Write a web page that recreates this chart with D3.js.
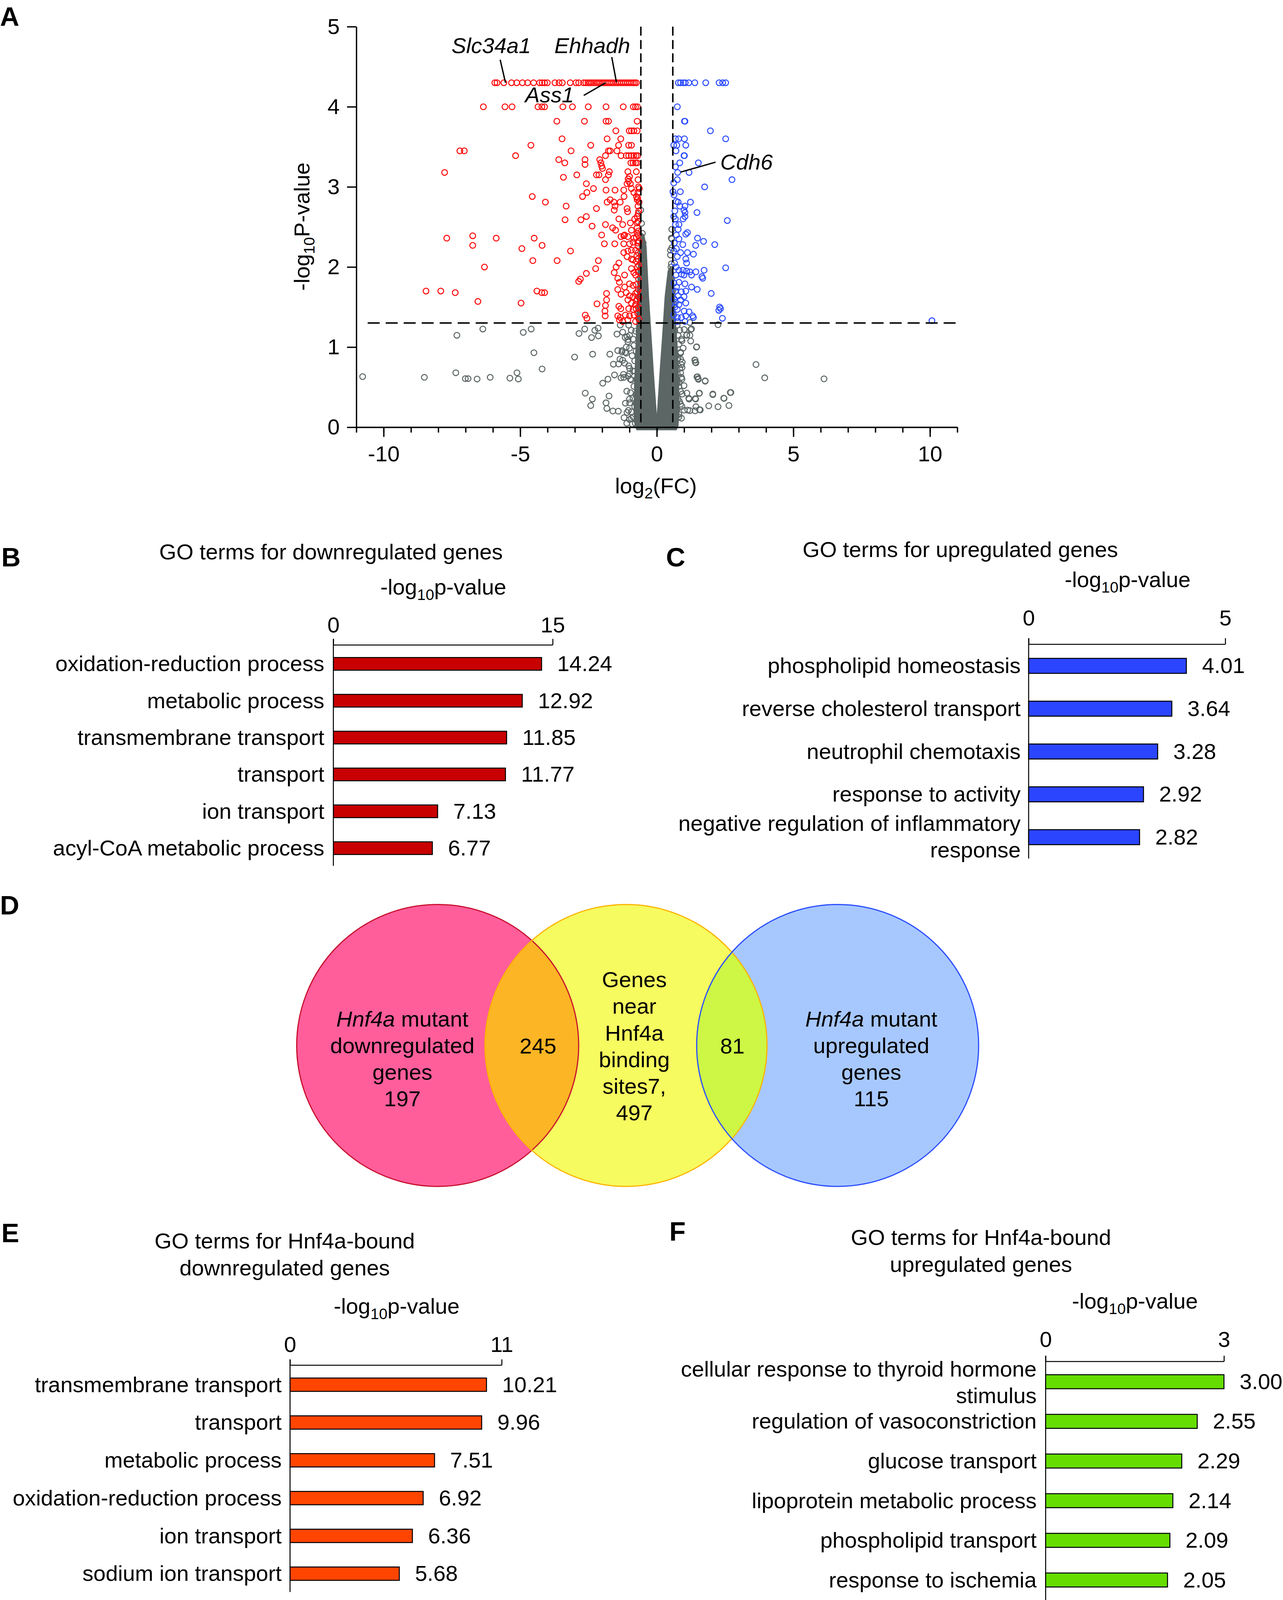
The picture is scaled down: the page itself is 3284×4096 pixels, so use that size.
<!DOCTYPE html>
<html><head><meta charset="utf-8">
<script src="https://cdn.jsdelivr.net/npm/d3@7"></script>
<style>html,body{margin:0;padding:0;background:#fff;overflow:hidden;} svg{display:block;}</style>
</head><body><svg id="fig"></svg>
<script>
// ---------------- DATA ----------------
const volcanoXDomain = [-11, 11];
const volcanoYDomain = [0, 5];
const volcanoXTicks = [-10, -5, 0, 5, 10];
const volcanoYTicks = [0, 1, 2, 3, 4, 5];
const fcCut = 0.585;      // log2(1.5)
const pCut = 1.301;       // -log10(0.05)

const downPoints = [
[-5.93,4.3],[-5.85,4.3],[-5.6,4.3],[-5.32,4.3],[-5.13,4.3],[-4.92,4.3],[-4.73,4.3],[-4.51,4.3],[-4.29,4.3],[-4.2,4.3],[-4.11,4.3],[-4.01,4.3],[-3.73,4.3],[-3.58,4.3],[-3.46,4.3],[-3.17,4.3],[-2.96,4.3],[-2.86,4.3],[-2.68,4.3],[-2.6,4.3],[-2.52,4.3],[-2.45,4.3],[-2.38,4.3],[-2.3,4.3],[-2.22,4.3],[-2.15,4.3],[-2.08,4.3],[-2,4.3],[-1.93,4.3],[-1.86,4.3],[-1.79,4.3],[-1.72,4.3],[-1.65,4.3],[-1.58,4.3],[-1.5,4.3],[-1.43,4.3],[-1.36,4.3],[-1.29,4.3],[-1.22,4.3],[-1.15,4.3],[-1.08,4.3],[-1.01,4.3],[-0.94,4.3],[-0.87,4.3],[-0.81,4.3],[-0.75,4.3],
[-6.35,4],[-5.56,4],[-5.3,4],[-4.35,4],[-4.21,4],[-4.11,4],[-3.44,4],[-3.09,4],[-2.51,4],[-1.86,4],[-1.23,4],[-0.86,4],[-0.78,4],[-0.71,4],
[-3.66,3.82],[-2.65,3.82],[-1.86,3.82],[-1.77,3.82],[-0.72,3.82],
[-1.5,3.7],[-1.01,3.7],[-0.93,3.7],[-0.84,3.7],[-0.72,3.7],
[-3.47,3.6],[-1.82,3.6],[-1.32,3.6],
[-4.61,3.52],[-2.42,3.52],[-1.4,3.52],[-1.03,3.52],[-0.93,3.52],
[-7.21,3.45],[-7.05,3.45],[-3.14,3.45],[-1.77,3.45],[-1.71,3.45],[-1.46,3.45],
[-5.17,3.39],[-1.88,3.39],[-1.31,3.39],[-1.12,3.39],[-1.03,3.39],[-0.93,3.39],[-0.84,3.39],[-0.76,3.39],[-0.7,3.39],
[-3.59,3.34],[-2.63,3.34],[-2.09,3.34],
[-3.37,3.3],[-2.63,3.28],[-2.05,3.3],[-0.95,3.3],[-0.87,3.3],[-0.78,3.3],[-0.72,3.3],
[-2.02,3.26],[-1.99,3.23],
[-7.77,3.18],[-1.74,3.19],[-1.06,3.19],[-0.75,3.19],
[-2.93,3.15],[-2.21,3.15],[-2.12,3.15],[-1.77,3.15],
[-3.42,3.12],[-1.05,3.1],[-1.0,3.13],
[-1.88,3.09],[-1.03,3.07],[-0.69,3.09],
[-2.58,3.04],[-1.09,3.04],[-0.97,3.04],
[-2.32,2.98],[-0.93,2.98],[-0.64,2.98],
[-1.86,2.96],[-1.53,2.96],[-1.21,2.96],
[-2.56,2.93],[-0.84,2.93],[-0.69,2.93],
[-4.56,2.88],[-2.72,2.88],[-1.2,2.88],[-0.75,2.88],
[-1.71,2.84],[-0.72,2.84],
[-4.08,2.81],[-1.82,2.81],[-1.57,2.81],[-1.34,2.81],[-0.65,2.81],
[-3.32,2.76],[-1.53,2.76],[-0.69,2.76],
[-2.21,2.73],[-1.09,2.73],
[-1.56,2.71],[-1.07,2.69],[-0.66,2.7],
[-2.58,2.63],[-0.72,2.63],
[-1.39,2.6],[-0.81,2.6],
[-3.36,2.59],[-2.78,2.59],
[-0.97,2.55],[-0.72,2.55],
[-1.88,2.53],[-1.25,2.53],
[-2.37,2.51],
[-1.62,2.49],[-0.72,2.49],[-0.67,2.45],
[-1.51,2.46],[-0.93,2.46],
[-2.02,2.4],[-1.18,2.4],[-0.69,2.4],
[-6.74,2.39],[-1.31,2.38],[-1.21,2.39],[-1.06,2.38],[-0.75,2.37],
[-7.69,2.36],[-5.88,2.36],[-4.49,2.36],[-0.84,2.36],
[-0.65,2.32],
[-1.92,2.29],[-1.54,2.29],[-1.21,2.29],[-0.997,2.29],[-0.87,2.31],
[-6.74,2.27],[-4.2,2.27],[-0.69,2.26],
[-4.94,2.23],[-3.16,2.2],
[-1.21,2.18],[-1.06,2.2],[-0.93,2.21],[-0.78,2.21],[-0.68,2.18],
[-1.09,2.13],[-0.93,2.1],[-0.87,2.09],[-0.75,2.07],[-0.69,2.1],
[-4.54,2.08],[-3.65,2.08],[-2.14,2.08],
[-1.39,2.05],[-0.66,2.02],
[-6.31,2.0],[-1.49,2.0],[-2.24,1.98],[-0.93,1.98],
[-0.69,1.94],[-1.56,1.93],[-0.84,1.93],[-2.58,1.92],
[-1.18,1.9],[-0.78,1.9],
[-1.43,1.86],[-0.67,1.85],[-2.8,1.85],[-2.86,1.82],
[-1.37,1.81],
[-1.0,1.79],[-0.87,1.77],[-0.75,1.78],
[-1.18,1.75],[-1.43,1.72],
[-8.45,1.7],[-7.91,1.7],[-4.39,1.7],[-0.72,1.69],
[-7.38,1.68],[-4.21,1.68],[-4.11,1.68],[-1.12,1.68],
[-1.84,1.67],[-0.78,1.67],[-1.31,1.66],
[-1.0,1.64],[-0.87,1.63],[-0.65,1.62],
[-1.84,1.59],[-1.06,1.59],[-0.75,1.58],
[-6.55,1.57],[-4.97,1.55],[-0.93,1.55],[-2.19,1.54],[-0.78,1.53],
[-1.88,1.52],[-1.39,1.51],[-0.68,1.5],
[-1.03,1.48],[-1.32,1.48],[-0.87,1.47],[-0.76,1.48],
[-1.9,1.45],
[-2.62,1.4],[-1.15,1.4],[-0.84,1.4],[-1.43,1.39],[-1.0,1.39],[-1.89,1.39],
[-1.34,1.37],[-2.56,1.36],[-0.66,1.35],
[-1.37,1.34],[-1.06,1.34],[-1.25,1.32],[-0.78,1.32],
[-0.7,1.42],[-0.72,1.6],[-0.68,1.72],[-0.71,2.0],[-0.73,2.14],[-0.7,2.3],[-0.72,2.42],[-0.69,2.57],[-0.68,2.67],[-0.7,2.86],[-0.67,3.0]
];

const upPoints = [
[0.79,4.3],[0.87,4.3],[0.97,4.3],[1.04,4.3],[1.17,4.3],[1.39,4.3],[1.79,4.3],[2.28,4.3],[2.41,4.3],[2.52,4.3],
[0.75,4.0],[1.01,3.82],[1.03,3.82],[1.96,3.7],
[0.68,3.6],[0.8,3.6],[1.01,3.6],[2.52,3.6],
[0.62,3.52],[0.73,3.52],[1.06,3.52],[0.7,3.45],
[0.995,3.39],[1.01,3.39],
[0.84,3.3],[1.52,3.3],[0.68,3.25],
[0.76,3.18],[1.18,3.18],
[0.75,3.09],[2.75,3.09],[0.62,3.05],
[1.75,3.0],
[0.59,2.94],[0.86,2.94],[0.63,2.9],
[0.71,2.82],[0.78,2.81],[1.23,2.81],
[1.03,2.76],[0.84,2.76],[0.995,2.71],[1.03,2.68],[1.47,2.68],[0.66,2.7],
[0.62,2.63],[1.03,2.63],[0.68,2.6],[0.96,2.6],[2.58,2.58],
[0.68,2.53],[0.81,2.53],[0.78,2.47],
[1.12,2.43],[1.06,2.41],[0.715,2.4],
[1.49,2.36],[0.81,2.35],[1.71,2.32],[2.12,2.28],[0.95,2.28],[1.42,2.27],[0.64,2.3],
[0.715,2.23],[0.62,2.2],[0.87,2.18],[1.12,2.18],[1.34,2.16],
[0.75,2.13],[1.06,2.1],[1.09,2.05],[0.65,2.05],
[0.71,2.0],[2.52,1.99],
[0.81,1.96],[0.96,1.96],[1.73,1.96],[1.09,1.95],[1.21,1.94],[1.43,1.94],
[0.9,1.91],[0.995,1.9],[1.27,1.9],[0.7,1.9],
[1.65,1.88],[1.68,1.86],
[0.81,1.81],[0.63,1.8],[1.03,1.79],[1.27,1.75],[0.72,1.75],[1.48,1.72],
[0.68,1.7],[1.06,1.7],[0.9,1.69],[1.99,1.67],
[0.78,1.64],[0.995,1.63],[0.64,1.6],[0.87,1.59],
[0.68,1.56],[1.06,1.55],[0.81,1.53],[0.66,1.5],[2.3,1.5],[2.33,1.48],
[0.75,1.47],[2.27,1.46],[1.0,1.45],[1.18,1.44],[0.62,1.4],
[1.31,1.39],[1.06,1.39],[1.34,1.37],[0.9,1.37],[0.75,1.37],[2.4,1.36],
[10.07,1.33],[0.75,1.32],[1.03,1.32]
];

const nsPoints = [
[-6.37,1.226],[-7.32,1.148],[-4.89,1.184],[-4.6,1.226],[-2.85,1.17],[-2.64,1.226],[-2.39,1.12],[-2.27,1.21],[-2.14,1.14],[-2.15,1.237],
[-4.5,0.93],[-3.01,0.876],[-2.35,0.912],[-1.72,0.912],[-1.59,0.787],[-10.77,0.632],[-8.51,0.623],[-7.36,0.68],[-7.01,0.607],[-6.91,0.607],
[-6.58,0.602],[-6.1,0.623],[-5.38,0.613],[-5.12,0.68],[-5.07,0.602],[-4.2,0.727],[-1.98,0.55],[-1.79,0.6],[-1.55,0.653],[-2.62,0.426],
[-2.36,0.352],[-2.42,0.271],[-1.86,0.305],[-1.83,0.235],[-1.75,0.39],[-1.61,0.203],
[-1.41,0.2],[-1.4,0.79],[-1.25,0.837],[-1.43,0.957],[-1.28,0.94],[-1.12,0.925],[-1.46,1.163],[-1.25,1.187],[-1.09,1.13],[-1.34,1.275],
[-1.03,0.766],[-1.0,0.67],[-1.21,0.622],[-1.09,0.185],[-0.934,0.113],[-1.0,0.352],
[-1.16,1.12],[-1.05,1.095],[-1.27,0.957],[-1.16,0.936],[-1.35,0.85],[-1.22,0.66],[-1.31,0.617],[-0.97,0.6],[-1.04,0.21],
[-1.03,1.275],[-0.934,1.211],[-0.997,1.148],[-0.872,1.1],[-1.06,1.068],[-0.84,1.02],[-0.997,0.988],[-0.903,0.893],[-0.81,0.829],
[-0.997,0.734],[-0.872,0.702],[-1.06,0.638],[-0.934,0.59],[-0.84,0.51],[-0.965,0.431],[-0.872,0.367],[-0.997,0.304],[-0.81,0.256],
[-0.934,0.192],[-0.872,0.129],[-0.997,0.097],
[-0.78,1.2],[-0.76,0.95],[-0.8,0.7],[-0.77,0.4],[-0.79,0.05],[-0.9,0.04],[-1.1,0.05],[-1.2,0.12],[-1.15,0.3],[-1.1,0.45],[-1.18,0.8],[-1.12,1.0],
[2.24,1.28],[3.63,0.783],[3.95,0.617],[6.12,0.604],[1.45,1.0],[1.39,0.84],[1.41,0.81],[1.47,0.628],[1.51,0.607],[1.77,0.58],
[1.1,0.426],[1.17,0.363],[1.41,0.358],[1.56,0.426],[2.05,0.415],[2.45,0.363],[2.69,0.433],[1.9,0.267],[2.24,0.256],[2.64,0.271],
[1.21,1.147],[1.1,1.152],[1.0,1.22],[1.24,1.22],[1.43,0.256],[1.56,0.22],[1.13,0.214],[1.0,0.214],[0.83,0.32],[0.92,0.26],
[0.74,0.55],[0.92,0.6],[0.92,0.745],[0.87,0.68],[0.87,0.85],[0.87,0.936],[0.92,1.08],
[1.21,1.307],[1.27,1.227],[1.09,1.148],[1.24,1.076],[1.46,1.004],[1.4,0.837],[1.43,0.805],[1.49,0.63],[1.52,0.598],[1.77,0.575],
[1.55,0.423],[1.18,0.351],[1.42,0.351],[2.05,0.407],[2.46,0.36],[2.71,0.434],[1.21,0.208],[1.4,0.205],[1.59,0.216],
[0.81,0.559],[0.995,0.519],[0.87,0.447],[0.68,0.129],[0.81,0.129],[0.745,0.845],[0.9,0.781],
[0.746,1.275],[0.84,1.211],[0.777,1.148],[0.901,1.1],[0.808,1.036],[0.964,0.988],[0.87,0.925],[0.777,0.861],[0.93,0.813],
[0.84,0.734],[0.746,0.67],[0.901,0.622],[0.808,0.51],[0.93,0.415],[0.777,0.352],[0.87,0.288],[0.746,0.224],[0.808,0.16],[0.901,0.113],
[-0.5,2.3],[-0.53,2.17],[-0.47,2.07],[-0.5,1.96],[0.53,2.36],[0.5,2.21],[0.5,2.15],[0.53,2.04],
[-0.59,2.71],[-0.56,2.545],[-0.53,2.42],[0.547,2.47],[0.547,2.35],[0.547,2.24],
[-0.6,1.8],[-0.58,1.6],[-0.62,1.45],[-0.55,2.0],[-0.57,2.15],[0.58,1.7],[0.55,1.85],[0.6,1.55],[0.52,2.0],
[-0.66,1.2],[-0.7,0.9],[-0.74,0.6],[-0.76,0.3],[0.66,1.2],[0.7,0.9],[0.74,0.6],[0.74,0.3]
];

// outline of the saturated (overplotted) grey mass around log2FC = 0
const denseCore = [
[-0.56,2.42],[-0.62,2.33],[-0.66,2.1],[-0.69,1.8],[-0.73,1.3],[-0.77,0.9],[-0.81,0.5],[-0.83,0.2],[-0.79,0.02],[-0.73,-0.03],
[0.71,-0.03],[0.77,0.02],[0.81,0.2],[0.79,0.6],[0.74,1.0],[0.66,1.4],[0.62,1.8],[0.57,1.96],[0.5,2.0],[0.42,1.95],
[0.31,1.63],[0.22,1.15],[0.12,0.67],[0.03,0.19],[0.0,0.08],[-0.03,0.19],[-0.13,0.67],[-0.22,1.15],[-0.31,1.63],[-0.4,2.26],[-0.48,2.4]
];

const geneLabels = [["Slc34a1",-5.54,4.30],["Ehhadh",-1.48,4.30],["Ass1",-1.87,4.30],["Cdh6",0.76,3.18]];

const goDownTerms = [["oxidation-reduction process"],["metabolic process"],["transmembrane transport"],["transport"],["ion transport"],["acyl-CoA metabolic process"]];
const goDownValues = [14.24,12.92,11.85,11.77,7.13,6.77];
const goDownMax = 15;

const goUpTerms = [["phospholipid homeostasis"],["reverse cholesterol transport"],["neutrophil chemotaxis"],["response to activity"],["negative regulation of inflammatory","response"]];
const goUpValues = [4.01,3.64,3.28,2.92,2.82];
const goUpMax = 5;

const boundDownTerms = [["transmembrane transport"],["transport"],["metabolic process"],["oxidation-reduction process"],["ion transport"],["sodium ion transport"]];
const boundDownValues = [10.21,9.96,7.51,6.92,6.36,5.68];
const boundDownMax = 11;

const boundUpTerms = [["cellular response to thyroid hormone","stimulus"],["regulation of vasoconstriction"],["glucose transport"],["lipoprotein metabolic process"],["phospholipid transport"],["response to ischemia"]];
const boundUpValues = [3.00,2.55,2.29,2.14,2.09,2.05];
const boundUpMax = 3;

const vennLeftLines = [["Hnf4a"," mutant"],["downregulated"],["genes"],["197"]];
const vennMidLines = ["Genes","near","Hnf4a","binding","sites7,","497"];
const vennRightLines = [["Hnf4a"," mutant"],["upregulated"],["genes"],["115"]];
const vennOverlapCounts = ["245","81"];

// ---------------- DRAWING ----------------
const W = 3849, H = 4801;
const FONT = "'Liberation Sans', Arial, Helvetica, sans-serif";
const FS = 66;
const svg = d3.select("#fig").attr("width", 3284).attr("height", 4096).attr("viewBox", `0 0 ${W} ${H}`)
  .style("font-family", FONT).style("font-size", FS + "px");
svg.append("rect").attr("width", W).attr("height", H).attr("fill", "#fff");

function letter(t, x, y) {
  svg.append("text").attr("x", x).attr("y", y).attr("font-weight", "bold").attr("font-size", 80).text(t);
}
function logLabel(sel, word) {
  sel.append("tspan").text("-log");
  sel.append("tspan").attr("font-size", 46).attr("dy", 16).text("10");
  sel.append("tspan").attr("dy", -16).text(word);
}

// ===== Panel A: volcano =====
const RED = "#ff0a0a", BLUE = "#2b4cff", GRAY = "#5b6665";
const vx = d3.scaleLinear().domain(volcanoXDomain).range([1069, 2872]);
const vy = d3.scaleLinear().domain(volcanoYDomain).range([1282, 80]);
const gA = svg.append("g");
letter("A", 0, 77);

gA.append("path").datum(denseCore)
  .attr("d", d3.line().x(d => vx(d[0])).y(d => vy(d[1])).curve(d3.curveLinearClosed))
  .attr("fill", GRAY).attr("stroke", GRAY).attr("stroke-width", 4).attr("stroke-linejoin", "round");

function dots(data, color) {
  gA.append("g").selectAll("circle").data(data).join("circle")
    .attr("cx", d => vx(d[0])).attr("cy", d => vy(d[1])).attr("r", 8.6)
    .attr("fill", "none").attr("stroke", color).attr("stroke-width", 3);
}
dots(nsPoints, GRAY);
dots(downPoints, RED);
dots(upPoints, BLUE);

// thresholds
[-fcCut, fcCut].forEach(v => {
  gA.append("line").attr("x1", vx(v)).attr("x2", vx(v)).attr("y1", vy(5)).attr("y2", vy(0))
    .attr("stroke", "#000").attr("stroke-width", 4.5).attr("stroke-dasharray", "27,13");
});
gA.append("line").attr("x1", vx(-11) + 34).attr("x2", vx(11)).attr("y1", vy(pCut)).attr("y2", vy(pCut))
  .attr("stroke", "#000").attr("stroke-width", 4.5).attr("stroke-dasharray", "36,18");

// axes
function styleAxis(g) {
  g.attr("font-family", FONT).attr("font-size", FS);
  g.selectAll("path,line").attr("stroke", "#000").attr("stroke-width", 4);
  g.selectAll("text").attr("fill", "#000");
}
gA.append("g").attr("transform", `translate(0,${vy(0)})`)
  .call(d3.axisBottom(vx).tickValues(d3.range(-11, 12)).tickSize(16).tickSizeOuter(0).tickFormat(""))
  .call(styleAxis);
gA.append("g").attr("transform", `translate(0,${vy(0)})`)
  .call(d3.axisBottom(vx).tickValues(volcanoXTicks).tickSize(29).tickSizeOuter(0).tickPadding(26).tickFormat(d => String(d)))
  .call(styleAxis);
gA.append("g").attr("transform", `translate(${vx(-11)},0)`)
  .call(d3.axisLeft(vy).tickValues(volcanoYTicks).tickSize(28).tickSizeOuter(0).tickPadding(22).tickFormat(d => String(d)))
  .call(styleAxis);

// axis titles
const xt = gA.append("text").attr("x", 1968).attr("y", 1480).attr("text-anchor", "middle");
xt.append("tspan").text("log");
xt.append("tspan").attr("font-size", 46).attr("dy", 16).text("2");
xt.append("tspan").attr("dy", -16).text("(FC)");
const yt = gA.append("text").attr("transform", "translate(928,680) rotate(-90)").attr("text-anchor", "middle");
logLabel(yt, "P-value");

// gene labels
const labelLayout = {
  Slc34a1: { line: [0, 0, -16, -69], text: [-162, -89] },
  Ehhadh:  { line: [0, -2, -14, -77], text: [-186, -89] },
  Ass1:    { line: [0, 0, -66, 38], text: [-242, 59] },
  Cdh6:    { line: [9, -1, 114, -31], text: [128, -9] }
};
geneLabels.forEach(([name, gx, gy]) => {
  const px = vx(gx), py = vy(gy), L = labelLayout[name];
  gA.append("line").attr("x1", px + L.line[0]).attr("y1", py + L.line[1]).attr("x2", px + L.line[2]).attr("y2", py + L.line[3])
    .attr("stroke", "#000").attr("stroke-width", 4);
  gA.append("text").attr("x", px + L.text[0]).attr("y", py + L.text[1]).attr("font-style", "italic").text(name);
});

// ===== Bar panels =====
function barPanel(cfg, terms, values, max) {
  const g = svg.append("g");
  letter(cfg.letter, cfg.letterX, cfg.letterY);
  const x = d3.scaleLinear().domain([0, max]).range([cfg.x0, cfg.x1]);
  const y = d3.scalePoint().domain(d3.range(values.length)).range([cfg.y0, cfg.y1]);
  cfg.title.forEach((t, i) => g.append("text").attr("x", cfg.titleX).attr("y", cfg.titleY[i]).attr("text-anchor", "middle").text(t));
  logLabel(g.append("text").attr("x", cfg.subX).attr("y", cfg.subY).attr("text-anchor", "middle"), "p-value");
  g.append("g").attr("transform", `translate(0,${cfg.axisY})`)
    .call(d3.axisTop(x).tickValues([0, max]).tickSize(cfg.tick).tickSizeOuter(0)
      .tickPadding(cfg.axisY - cfg.tick - cfg.tickBase).tickFormat(d => String(d)))
    .call(g2 => {
      g2.attr("font-family", FONT).attr("font-size", FS);
      g2.selectAll("path,line").attr("stroke", "#000").attr("stroke-width", 3);
      g2.selectAll("text").attr("fill", "#000");
    });
  g.append("line").attr("x1", x(0)).attr("x2", x(0)).attr("y1", cfg.axisY - cfg.tick).attr("y2", cfg.baseBottom)
    .attr("stroke", "#000").attr("stroke-width", 3);
  g.selectAll("rect.bar").data(values).join("rect").attr("class", "bar")
    .attr("x", x(0)).attr("y", (d, i) => y(i) - cfg.barH / 2)
    .attr("width", d => x(d) - x(0)).attr("height", cfg.barH)
    .attr("fill", cfg.color).attr("stroke", "#000").attr("stroke-width", 3);
  values.forEach((v, i) => {
    g.append("text").attr("x", x(v) + 47).attr("y", y(i) + 22).text(d3.format(".2f")(v));
    const lines = terms[i];
    if (lines.length === 1) {
      g.append("text").attr("x", cfg.labelX).attr("y", y(i) + 22).attr("text-anchor", "end").text(lines[0]);
    } else {
      lines.forEach((t, k) => g.append("text").attr("x", cfg.labelX).attr("y", y(i) + cfg.multi[k]).attr("text-anchor", "end").text(t));
    }
  });
}

barPanel({letter: "B", letterX: 4, letterY: 1700, x0: 1000, x1: 1658, y0: 1992, y1: 2545, barH: 38,
  axisY: 1935, tick: 18, tickBase: 1898, baseBottom: 2598, labelX: 973, color: "#c80000",
  title: ["GO terms for downregulated genes"], titleX: 993, titleY: [1678], subX: 1330, subY: 1784, multi: [-19, 61]},
  goDownTerms, goDownValues, goDownMax);

barPanel({letter: "C", letterX: 1998, letterY: 1700, x0: 3086, x1: 3676, y0: 1998, y1: 2512, barH: 45,
  axisY: 1933, tick: 18, tickBase: 1877, baseBottom: 2576, labelX: 3062, color: "#2b45ff",
  title: ["GO terms for upregulated genes"], titleX: 2881, titleY: [1671], subX: 3383, subY: 1762, multi: [-19, 61]},
  goUpTerms, goUpValues, goUpMax);

barPanel({letter: "E", letterX: 4, letterY: 3727, x0: 870, x1: 1505, y0: 4155, y1: 4722, barH: 40,
  axisY: 4096, tick: 17, tickBase: 4057, baseBottom: 4777, labelX: 845, color: "#ff4500",
  title: ["GO terms for Hnf4a-bound", "downregulated genes"], titleX: 854, titleY: [3746, 3827], subX: 1190, subY: 3942, multi: [-19, 61]},
  boundDownTerms, boundDownValues, boundDownMax);

barPanel({letter: "F", letterX: 2008, letterY: 3723, x0: 3137, x1: 3672, y0: 4146, y1: 4741, barH: 42,
  axisY: 4085, tick: 17, tickBase: 4041, baseBottom: 4801, labelX: 3110, color: "#66dd00",
  title: ["GO terms for Hnf4a-bound", "upregulated genes"], titleX: 2943, titleY: [3736, 3816], subX: 3405, subY: 3927, multi: [-16, 64]},
  boundUpTerms, boundUpValues, boundUpMax);

// ===== Panel D: Venn =====
letter("D", 0, 2744);
const gD = svg.append("g");
const R = 423, CY = 3137;
const circ = [
  {cx: 1313, fill: "#ff5e9b", stroke: "#c8102e"},
  {cx: 1878, fill: "#f6fb5f", stroke: "#fbb400"},
  {cx: 2513, fill: "#a7c8ff", stroke: "#2a4dff"}
];
const defs = svg.append("defs");
defs.append("clipPath").attr("id", "clipPink").append("circle").attr("cx", circ[0].cx).attr("cy", CY).attr("r", R);
defs.append("clipPath").attr("id", "clipBlue").append("circle").attr("cx", circ[2].cx).attr("cy", CY).attr("r", R);
circ.forEach(c => gD.append("circle").attr("cx", c.cx).attr("cy", CY).attr("r", R).attr("fill", c.fill));
gD.append("circle").attr("cx", circ[1].cx).attr("cy", CY).attr("r", R).attr("fill", "#fcb524").attr("clip-path", "url(#clipPink)");
gD.append("circle").attr("cx", circ[1].cx).attr("cy", CY).attr("r", R).attr("fill", "#cdf744").attr("clip-path", "url(#clipBlue)");
circ.forEach(c => gD.append("circle").attr("cx", c.cx).attr("cy", CY).attr("r", R).attr("fill", "none").attr("stroke", c.stroke).attr("stroke-width", 3.5));

function vennBlock(lines, x, y0) {
  lines.forEach((parts, i) => {
    const t = gD.append("text").attr("x", x).attr("y", y0 + i * 80).attr("text-anchor", "middle");
    parts.forEach((p, k) => {
      const s = t.append("tspan").text(p);
      if (p === "Hnf4a" && parts.length > 1) s.attr("font-style", "italic");
    });
  });
}
vennBlock(vennLeftLines, 1207, 3080);
vennBlock(vennMidLines.map(s => [s]), 1903, 2962);
vennBlock(vennRightLines, 2614, 3080);
gD.append("text").attr("x", 1614).attr("y", 3161).attr("text-anchor", "middle").text(vennOverlapCounts[0]);
gD.append("text").attr("x", 2197).attr("y", 3161).attr("text-anchor", "middle").text(vennOverlapCounts[1]);
</script></body></html>
